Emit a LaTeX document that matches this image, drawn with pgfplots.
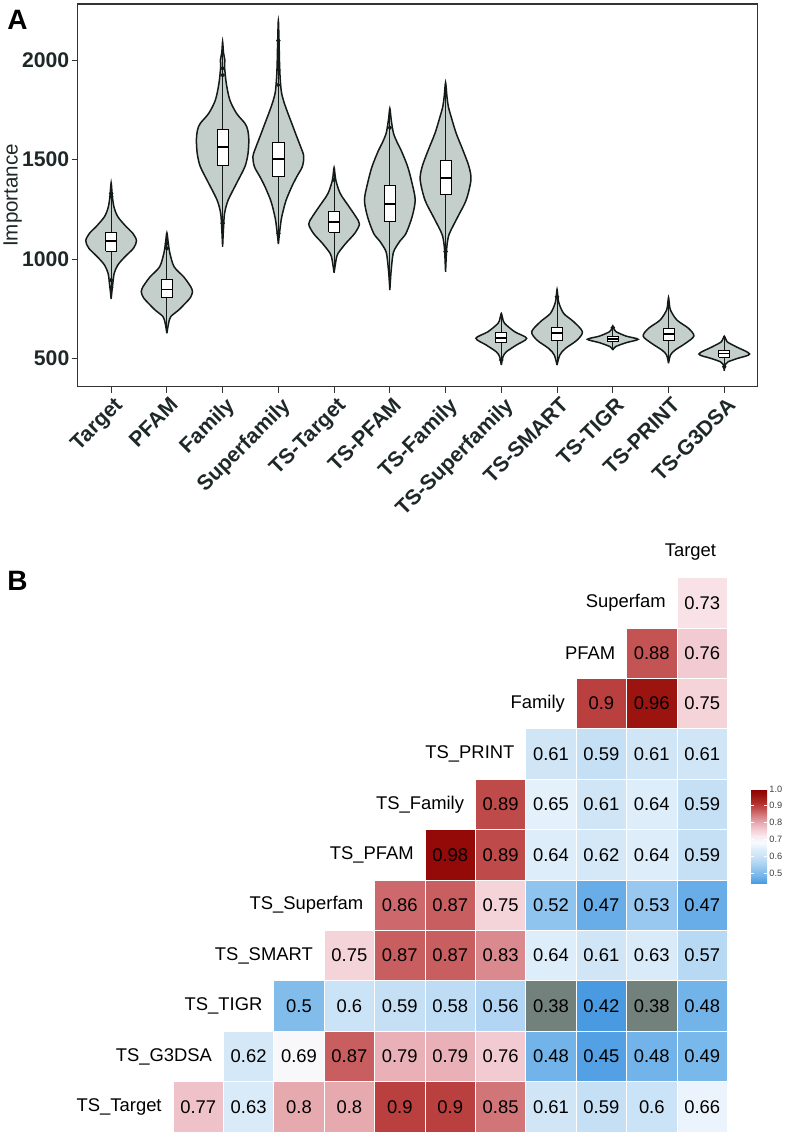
\documentclass[border=0pt]{standalone}
\usepackage{pgfplots}
\pgfplotsset{compat=1.18}
\usepackage{pgfplotstable}
\usepackage{fontspec}
\setmainfont{Liberation Sans}

\definecolor{txt}{RGB}{30,40,40}
\definecolor{vfill}{RGB}{196,206,202}
\definecolor{vline}{RGB}{20,25,25}
\definecolor{nagray}{RGB}{115,129,125}
\definecolor{frame}{RGB}{51,51,51}

% violin outlines: y = value, w = signed half width (x units); right side up, left side down
\pgfplotstableread{
y w
799 0
840 0.015
877 0.03
928 0.055
970 0.12
1012 0.25
1054 0.40
1092 0.455
1129 0.39
1163 0.27
1213 0.12
1263 0.05
1320 0.02
1384 0
1320 -0.02
1263 -0.05
1213 -0.12
1163 -0.27
1129 -0.39
1092 -0.455
1054 -0.40
1012 -0.25
970 -0.12
928 -0.055
877 -0.03
840 -0.015
799 0
}\vA
\pgfplotstableread{
y w
626 0
676 0.03
710 0.07
743 0.21
777 0.33
805 0.42
835 0.46
860 0.43
877 0.39
911 0.30
961 0.13
1028 0.055
1080 0.025
1132 0
1080 -0.025
1028 -0.055
961 -0.13
911 -0.30
877 -0.39
860 -0.43
835 -0.46
805 -0.42
777 -0.33
743 -0.21
710 -0.07
676 -0.03
626 0
}\vB
\pgfplotstableread{
y w
1062 0
1150 0.015
1230 0.035
1297 0.10
1381 0.25
1465 0.40
1530 0.455
1600 0.47
1650 0.45
1683 0.40
1733 0.25
1800 0.13
1884 0.066
1968 0.035
2000 0.04
2040 0.015
2094 0
2040 -0.015
2000 -0.04
1968 -0.035
1884 -0.066
1800 -0.13
1733 -0.25
1683 -0.40
1650 -0.45
1600 -0.47
1530 -0.455
1465 -0.40
1381 -0.25
1297 -0.10
1230 -0.035
1150 -0.015
1062 0
}\vC
\pgfplotstableread{
y w
1075 0
1129 0.02
1196 0.05
1247 0.09
1297 0.14
1364 0.24
1414 0.33
1465 0.43
1518 0.455
1565 0.40
1616 0.33
1683 0.24
1750 0.15
1800 0.09
1850 0.05
1950 0.025
2100 0.012
2200 0
2100 -0.012
1950 -0.025
1850 -0.05
1800 -0.09
1750 -0.15
1683 -0.24
1616 -0.33
1565 -0.40
1518 -0.455
1465 -0.43
1414 -0.33
1364 -0.24
1297 -0.14
1247 -0.09
1196 -0.05
1129 -0.02
1075 0
}\vD
\pgfplotstableread{
y w
931 0
995 0.035
1028 0.07
1079 0.21
1129 0.37
1176 0.455
1213 0.39
1263 0.27
1330 0.11
1398 0.03
1460 0
1398 -0.03
1330 -0.11
1263 -0.27
1213 -0.39
1176 -0.455
1129 -0.37
1079 -0.21
1028 -0.07
995 -0.035
931 0
}\vE
\pgfplotstableread{
y w
844 0
930 0.02
1012 0.05
1045 0.08
1090 0.18
1129 0.29
1213 0.40
1297 0.455
1380 0.40
1465 0.32
1549 0.20
1582 0.14
1633 0.066
1700 0.025
1758 0
1700 -0.025
1633 -0.066
1582 -0.14
1549 -0.20
1465 -0.32
1380 -0.40
1297 -0.455
1213 -0.40
1129 -0.29
1090 -0.18
1045 -0.08
1012 -0.05
930 -0.02
844 0
}\vF
\pgfplotstableread{
y w
936 0
1030 0.015
1080 0.03
1129 0.07
1213 0.22
1297 0.37
1398 0.455
1465 0.42
1549 0.31
1633 0.19
1716 0.10
1767 0.05
1817 0.025
1888 0
1817 -0.025
1767 -0.05
1716 -0.10
1633 -0.19
1549 -0.31
1465 -0.42
1398 -0.455
1297 -0.37
1213 -0.22
1129 -0.07
1080 -0.03
1030 -0.015
936 0
}\vG
\pgfplotstableread{
y w
466 0
508 0.03
533 0.09
567 0.27
601 0.455
634 0.24
676 0.06
700 0.025
726 0
700 -0.025
676 -0.06
634 -0.24
601 -0.455
567 -0.27
533 -0.09
508 -0.03
466 0
}\vH
\pgfplotstableread{
y w
466 0
517 0.05
550 0.15
592 0.36
634 0.455
684 0.30
726 0.12
777 0.035
810 0.015
847 0
810 -0.015
777 -0.035
726 -0.12
684 -0.30
634 -0.455
592 -0.36
550 -0.15
517 -0.05
466 0
}\vI
\pgfplotstableread{
y w
542 0
559 0.05
579 0.24
596 0.455
612 0.24
634 0.06
650 0.02
663 0
650 -0.02
634 -0.06
612 -0.24
596 -0.455
579 -0.24
559 -0.05
542 0
}\vJ
\pgfplotstableread{
y w
475 0
517 0.035
542 0.12
575 0.30
612 0.455
651 0.36
693 0.15
743 0.035
775 0.015
807 0
775 -0.015
743 -0.035
693 -0.15
651 -0.36
612 -0.455
575 -0.30
542 -0.12
517 -0.035
475 0
}\vK
\pgfplotstableread{
y w
438 0
470 0.02
483 0.07
500 0.24
522 0.455
559 0.21
584 0.05
612 0
584 -0.05
559 -0.21
522 -0.455
500 -0.24
483 -0.07
470 -0.02
438 0
}\vL

% correlation cells
\pgfplotstableread{
x y v
1 1 0.77
2 1 0.63
3 1 0.8
4 1 0.8
5 1 0.9
6 1 0.9
7 1 0.85
8 1 0.61
9 1 0.59
10 1 0.6
11 1 0.66
2 2 0.62
3 2 0.69
4 2 0.87
5 2 0.79
6 2 0.79
7 2 0.76
8 2 0.48
9 2 0.45
10 2 0.48
11 2 0.49
3 3 0.5
4 3 0.6
5 3 0.59
6 3 0.58
7 3 0.56
9 3 0.42
11 3 0.48
4 4 0.75
5 4 0.87
6 4 0.87
7 4 0.83
8 4 0.64
9 4 0.61
10 4 0.63
11 4 0.57
5 5 0.86
6 5 0.87
7 5 0.75
8 5 0.52
9 5 0.47
10 5 0.53
11 5 0.47
6 6 0.98
7 6 0.89
8 6 0.64
9 6 0.62
10 6 0.64
11 6 0.59
7 7 0.89
8 7 0.65
9 7 0.61
10 7 0.64
11 7 0.59
8 8 0.61
9 8 0.59
10 8 0.61
11 8 0.61
9 9 0.9
10 9 0.96
11 9 0.75
10 10 0.88
11 10 0.76
11 11 0.73
}\cells
\pgfplotstableread{
x y v
8 3 0.38
10 3 0.38
}\nacells
\pgfplotstableread{
x y lab
0.5 1 TS\_Target
1.5 2 TS\_G3DSA
2.5 3 TS\_TIGR
3.5 4 TS\_SMART
4.5 5 TS\_Superfam
5.5 6 TS\_PFAM
6.5 7 TS\_Family
7.5 8 TS\_PRINT
8.5 9 Family
9.5 10 PFAM
10.5 11 Superfam
11.5 12 Target
}\labs

\newcommand{\violin}[2]{%
  \addplot[fill=vfill, draw=vline, line width=0.75pt, smooth, tension=0.5]
    table[x expr=#1+\thisrow{w}, y=y] {#2};
}
% #1 centre, #2 left, #3 right, #4 low, #5 q1, #6 median, #7 q3, #8 high
\newcommand{\bx}[8]{%
  \addplot[vline, line width=0.4pt] coordinates {(#1,#4) (#1,#8)};
  \addplot[fill=white, draw=black, line width=0.4pt] coordinates {(#2,#5) (#3,#5) (#3,#7) (#2,#7) (#2,#5)};
  \addplot[black, line width=0.9pt] coordinates {(#2,#6) (#3,#6)};
}

\begin{document}
\begin{tikzpicture}
\useasboundingbox (0pt,0pt) rectangle (395.5pt,-567pt);

\node[anchor=base west, inner sep=0pt, font=\fontsize{14}{16}\selectfont\bfseries] at (3.5pt,-15pt) {A};
\node[anchor=base west, inner sep=0pt, font=\fontsize{14}{16}\selectfont\bfseries] at (3.5pt,-295pt) {B};

\begin{axis}[
  at={(38.85pt,-193.35pt)}, anchor=south west,
  scale only axis, width=340pt, height=191.35pt,
  xmin=0.4, xmax=12.6, ymin=357.4, ymax=2283.6,
  xtick={1,2,3,4,5,6,7,8,9,10,11,12},
  xticklabels={Target,PFAM,Family,Superfamily,TS-Target,TS-PFAM,TS-Family,TS-Superfamily,TS-SMART,TS-TIGR,TS-PRINT,TS-G3DSA},
  ytick={500,1000,1500,2000},
  tick pos=left, tick align=outside, major tick length=3pt,
  tick style={draw=frame, line width=0.5pt},
  axis line style={draw=frame, line width=0.6pt},
  /pgf/number format/1000 sep={},
  /pgf/number format/assume math mode=true,
  ticklabel style={font=\fontsize{10.6}{12}\selectfont\bfseries, text=txt},
  yticklabel style={inner sep=1pt},
  xticklabel style={xshift=1pt, rotate=45, anchor=north east, inner sep=1pt},
  ylabel={Importance},
  ylabel style={at={(axis description cs:-0.0882,0.5)}, anchor=base, font=\fontsize{10.3}{12}\selectfont, text=txt},
]
\violin{1}{\vA}
\violin{2}{\vB}
\violin{3}{\vC}
\violin{4}{\vD}
\violin{5}{\vE}
\violin{6}{\vF}
\violin{7}{\vG}
\violin{8}{\vH}
\violin{9}{\vI}
\violin{10}{\vJ}
\violin{11}{\vK}
\violin{12}{\vL}
\bx{1}{0.9}{1.1}{799}{1040}{1090}{1134}{1384}
\bx{2}{1.9}{2.1}{626}{807}{847}{898}{1132}
\bx{3}{2.9}{3.1}{1062}{1470}{1565}{1653}{2094}
\bx{4}{3.9}{4.1}{1075}{1414}{1503}{1587}{2200}
\bx{5}{4.9}{5.1}{931}{1136}{1186}{1242}{1460}
\bx{6}{5.9}{6.1}{844}{1191}{1277}{1369}{1758}
\bx{7}{6.9}{7.1}{936}{1327}{1406}{1495}{1888}
\bx{8}{7.9}{8.1}{466}{579}{604}{629}{726}
\bx{9}{8.9}{9.1}{466}{592}{629}{656}{847}
\bx{10}{9.9}{10.1}{542}{585}{597}{609}{663}
\bx{11}{10.9}{11.1}{475}{589}{621}{649}{807}
\bx{12}{11.9}{12.1}{438}{507}{525}{540}{612}
\addplot[only marks, mark=*, mark size=0.9pt, color=vline] coordinates {
(1,1330)(1,1314)(1,894)(1,857)(2,1079)(2,1054)(3,1960)(3,1926)(3,1180)
(4,2099)(4,1955)(4,1876)(4,1129)(5,1398)(6,1661)(7,1037)(8,492)(9,810)(10,655)(12,458)};
\end{axis}

\begin{axis}[
  at={(86.5pt,-566pt)}, anchor=south west,
  scale only axis, width=277.2pt, height=302.4pt,
  xmin=0.5, xmax=11.5, ymin=0.5, ymax=12.5,
  hide axis, clip=false,
  /pgf/number format/assume math mode=true,
  colormap={corr}{rgb255=(74,154,226) rgb255=(114,180,233) rgb255=(143,196,238)
    rgb255=(177,213,242) rgb255=(203,227,246) rgb255=(221,237,249) rgb255=(248,251,254)
    rgb255=(250,234,238) rgb255=(242,203,210) rgb255=(230,169,174) rgb255=(214,128,132)
    rgb255=(196,83,84) rgb255=(176,46,43) rgb255=(156,20,16) rgb255=(139,0,0)},
  point meta min=0.44, point meta max=1.0,
  colorbar,
  colorbar shift/.style={},
  colorbar style={
    at={(parent axis.south west)}, anchor=north west,
    xshift=289pt, yshift=171.5pt,
    scale only axis, width=8pt, height=47pt,
    ytick={0.5,0.6,0.7,0.8,0.9,1.0},
    /pgf/number format/assume math mode=true,
    yticklabel style={font=\fontsize{4.6}{5}\selectfont, text=black!75,
      /pgf/number format/fixed, /pgf/number format/fixed zerofill,
      /pgf/number format/precision=1, /pgf/number format/assume math mode=true, inner sep=1pt},
    axis line style={draw=none},
    tick style={draw=white, line width=0.4pt},
    major tick length=1.5pt, tick align=inside, tick pos=both, yticklabel pos=right,
  },
]
\addplot[scatter, only marks, mark=square*, mark size=12.6pt,
  scatter/use mapped color={draw=white, fill=mapped color, line width=0.4pt},
  point meta=explicit,
  nodes near coords*,
  every node near coord/.style={anchor=center, text=black, inner sep=0pt, font=\fontsize{9.2}{10}\selectfont},
  /pgf/number format/fixed, /pgf/number format/precision=2]
  table[x=x, y=y, meta=v] {\cells};
\addplot[only marks, mark=square*, mark size=12.6pt,
  mark options={fill=nagray, draw=white, line width=0.4pt},
  point meta=explicit,
  nodes near coords,
  every node near coord/.style={anchor=center, text=black, inner sep=0pt, font=\fontsize{9.2}{10}\selectfont},
  /pgf/number format/fixed, /pgf/number format/precision=2]
  table[x=x, y=y, meta=v] {\nacells};
\addplot[only marks, mark=none, point meta=explicit symbolic,
  nodes near coords,
  every node near coord/.style={anchor=east, xshift=-5.5pt, text=black, inner sep=0pt, font=\fontsize{9.2}{10}\selectfont}]
  table[x=x, y=y, meta=lab] {\labs};
\end{axis}
\end{tikzpicture}
\end{document}
